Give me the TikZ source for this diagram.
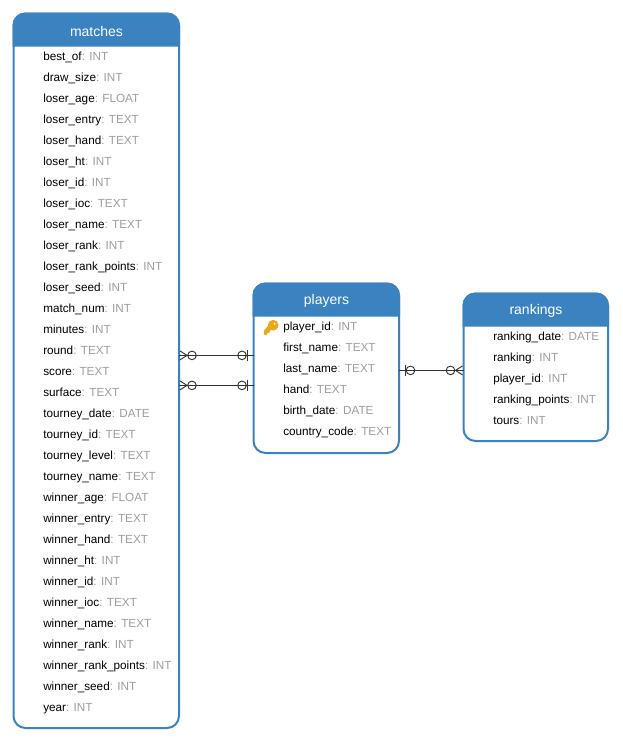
\documentclass[tikz,border=0pt]{standalone}
\usepackage{fontspec}
\setmainfont{Liberation Sans}
\definecolor{erblue}{HTML}{3A83C0}
\definecolor{typegray}{HTML}{9E9E9E}
\definecolor{keygold}{HTML}{E8A91C}
\definecolor{linkgray}{HTML}{333333}
\tikzset{
  tablebox/.style={draw=erblue,line width=1.5pt,rounded corners=9pt,fill=white,anchor=north west,inner sep=0pt,outer sep=0pt},
  headfill/.style={fill=erblue,draw=erblue,line width=1.5pt},
  headtext/.style={text=white,font=\fontsize{10.5}{12}\selectfont,anchor=center,inner sep=0pt},
  fieldtext/.style={text=black,font=\fontsize{8.8}{10}\selectfont,anchor=base west,inner sep=0pt},
  link/.style={draw=linkgray,line width=0.75pt},
  symb/.style={draw=linkgray,line width=0.7pt,fill=none},
  pics/manyend/.style={code={
    \draw[symb] (1,-4.5) -- (8,0) -- (1,4.5);
    \draw[symb] (13,0) circle[radius=4.3];
  }},
  pics/oneend/.style={code={
    \draw[symb] (6,-5.5) -- (6,5.5);
    \draw[symb] (11.5,0) circle[radius=4.3];
  }},
}
\newcommand{\typ}[1]{{\color{typegray}#1}}
\begin{document}
\begin{tikzpicture}[x=0.75pt,y=-0.75pt]
\useasboundingbox (0,0) rectangle (622,743);
% tables
\node[tablebox,minimum width=165.5*0.75pt,minimum height=714.5*0.75pt] (matches) at (13.5,13.5) {};
\node[tablebox,minimum width=145.5*0.75pt,minimum height=169.5*0.75pt] (players) at (253.5,283.5) {};
\node[tablebox,minimum width=144.5*0.75pt,minimum height=147.5*0.75pt] (rankings) at (463.5,293.5) {};
% headers
\path[headfill] (13.5,45.5) [rounded corners=9pt] -- (13.5,13.5) -- (179,13.5) [sharp corners] -- (179,45.5) -- cycle;
\path[headfill] (253.5,315.5) [rounded corners=9pt] -- (253.5,283.5) -- (399,283.5) [sharp corners] -- (399,315.5) -- cycle;
\path[headfill] (463.5,325.5) [rounded corners=9pt] -- (463.5,293.5) -- (608,293.5) [sharp corners] -- (608,325.5) -- cycle;
\node[headtext] (mhead) at (96.5,31) {matches};
\node[headtext] (phead) at (326.5,301) {players};
\node[headtext] (rhead) at (536,311) {rankings};
% matches fields
\foreach \n/\t [count=\i from 0] in {best\_of/INT,draw\_size/INT,loser\_age/FLOAT,loser\_entry/TEXT,loser\_hand/TEXT,loser\_ht/INT,loser\_id/INT,loser\_ioc/TEXT,loser\_name/TEXT,loser\_rank/INT,loser\_rank\_points/INT,loser\_seed/INT,match\_num/INT,minutes/INT,round/TEXT,score/TEXT,surface/TEXT,tourney\_date/DATE,tourney\_id/TEXT,tourney\_level/TEXT,tourney\_name/TEXT,winner\_age/FLOAT,winner\_entry/TEXT,winner\_hand/TEXT,winner\_ht/INT,winner\_id/INT,winner\_ioc/TEXT,winner\_name/TEXT,winner\_rank/INT,winner\_rank\_points/INT,winner\_seed/INT,year/INT}
  {\node[fieldtext] (mf\i) at (43,60+21*\i) {\n\typ{: \t}};}
% players fields
\foreach \n/\t [count=\i from 0] in {player\_id/INT,first\_name/TEXT,last\_name/TEXT,hand/TEXT,birth\_date/DATE,country\_code/TEXT}
  {\node[fieldtext] (pf\i) at (283,330+21*\i) {\n\typ{: \t}};}
% rankings fields
\foreach \n/\t [count=\i from 0] in {ranking\_date/DATE,ranking/INT,player\_id/INT,ranking\_points/INT,tours/INT}
  {\node[fieldtext] (rf\i) at (493,340+21*\i) {\n\typ{: \t}};}
% key icon
\begin{scope}[shift={(264,320)}]
  \fill[keygold,even odd rule] (9.2,5.2) circle[radius=5.4] (10.6,3.8) circle[radius=1.4];
  \fill[keygold] (5.5,4) -- (9,8.5) -- (5.5,11) -- (5.5,13) -- (3,13) -- (3,15) -- (0.8,15) -- (0,14) -- (0,10.5) -- cycle;
\end{scope}
% connectors
\coordinate (c1a) at (matches.east |- 0,355.4);
\coordinate (c1b) at (players.west |- 0,355.4);
\coordinate (c2a) at (matches.east |- 0,385.4);
\coordinate (c2b) at (players.west |- 0,385.4);
\coordinate (c3a) at (players.east |- 0,370.4);
\coordinate (c3b) at (rankings.west |- 0,370.4);
\draw[link] (c1a) -- (c1b);
\draw[link] (c2a) -- (c2b);
\draw[link] (c3a) -- (c3b);
\pic at (c1a) {manyend};
\pic at (c2a) {manyend};
\pic[xscale=-1] at (c1b) {oneend};
\pic[xscale=-1] at (c2b) {oneend};
\pic at (c3a) {oneend};
\pic[xscale=-1] at (c3b) {manyend};
\end{tikzpicture}
\end{document}
